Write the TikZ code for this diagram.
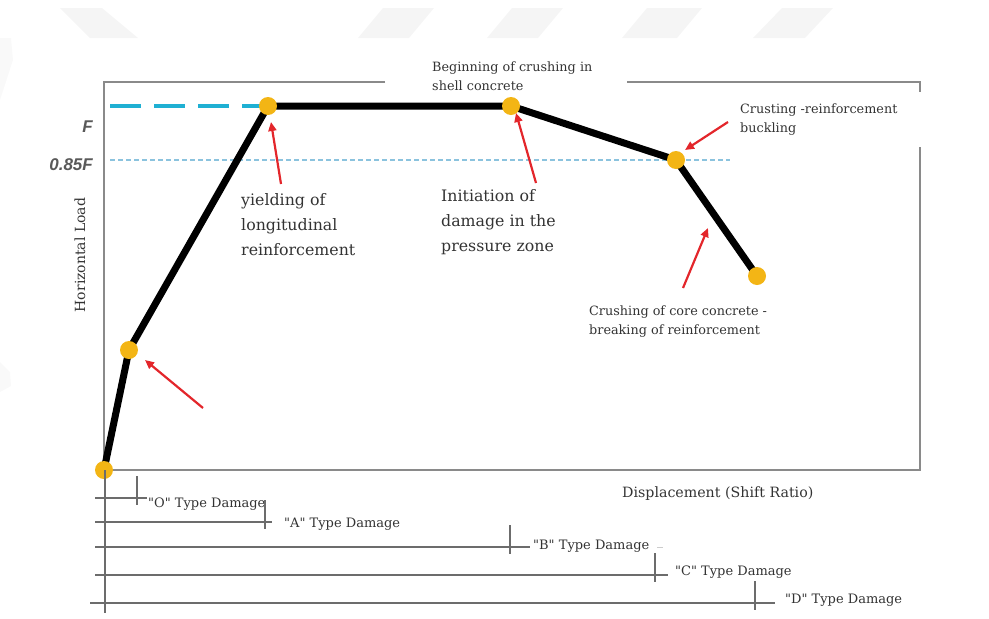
\documentclass[tikz,border=0pt]{standalone}
\usepackage{fontspec}
\setmainfont{DejaVu Serif}[Ligatures=TeXOff]
\setsansfont{Liberation Sans}
\usetikzlibrary{arrows.meta}

\definecolor{dotfill}{HTML}{F3B515}
\definecolor{fcyan}{HTML}{1FB0D3}
\definecolor{flight}{HTML}{8BC3DE}
\definecolor{redarrow}{HTML}{E3262B}
\definecolor{framegray}{HTML}{8A8A8A}
\definecolor{textgray}{HTML}{333333}

\begin{document}
\begin{tikzpicture}[x=1pt, y=-1pt,
  boxline/.style={framegray, line width=1.6pt},
  curveline/.style={black, line width=7pt, line join=round},
  pointdot/.style={fill=dotfill},
  redarr/.style={redarrow, line width=2.2pt, -{Triangle[length=9pt,width=8pt]}},
  damline/.style={gray!85!black, line width=1.4pt},
  biglabel/.style={inner sep=0pt, anchor=north west, align=left, text=textgray,
    font=\fontsize{15.8}{25}\selectfont},
  smalllabel/.style={inner sep=0pt, anchor=north west, align=left, text=textgray,
    font=\fontsize{12.8}{19}\selectfont},
  damlabel/.style={inner sep=0pt, anchor=base west, text=textgray,
    font=\fontsize{13}{15}\selectfont},
  flabel/.style={inner sep=0pt, anchor=base east, text=black!65,
    font=\fontsize{17}{18}\selectfont\sffamily\bfseries\itshape}]
  \useasboundingbox (0,0) rectangle (989,619);

  % Faint watermark stripes along the top
  \fill[gray!8] (60,8) -- (102,8) -- (138,38) -- (90,38) -- cycle;
  \fill[gray!8] (383,8) -- (434,8) -- (409,38) -- (358,38) -- cycle;
  \fill[gray!8] (512,8) -- (563,8) -- (538,38) -- (487,38) -- cycle;
  \fill[gray!8] (647,8) -- (702,8) -- (677,38) -- (622,38) -- cycle;
  \fill[gray!8] (782,8) -- (833,8) -- (805,38) -- (753,38) -- cycle;
  \fill[gray!5] (0,38) -- (11,38) -- (13,60) -- (0,100) -- cycle;
  \fill[gray!5] (0,362) -- (10,372) -- (11,386) -- (0,392) -- cycle;

  % Frame of the plot (open at the top labels)
  \draw[boxline] (385,82) -- (104,82) -- (104,470) -- (920,470) -- (920,147);
  \draw[boxline] (627,82) -- (920,82) -- (920,92);

  % Load levels F and 0.85F
  \node[flabel] (fF) at (93,132) {F};
  \node[flabel] (f85) at (93,170) {0.85F};
  \node[inner sep=0pt, rotate=90, text=textgray,
    font=\fontsize{14}{16}\selectfont] (hload) at (80,255) {Horizontal Load};

  % Points of the capacity curve
  \coordinate (o) at (104,470);
  \coordinate (a) at (129,350);
  \coordinate (y) at (268,106);
  \coordinate (b) at (511,106);
  \coordinate (c) at (676,160);
  \coordinate (d) at (757,276);
  \coordinate (fstart) at (110,106);
  \coordinate (lstart) at (110,160);
  \coordinate (lend) at (730,160);

  \draw[flight, line width=1.8pt, dash pattern=on 5pt off 3pt] (lstart) -- (lend);
  \draw[fcyan, line width=3.5pt, dash pattern=on 31pt off 13pt] (fstart) -- (y);

  % The curve itself
  \draw[curveline] (o) -- (a) -- (y) -- (b) -- (c) -- (d);
  \foreach \p in {o,a,y,b,c,d} {
    \fill[pointdot] (\p) circle[radius=9pt];
  }

  % Red pointers
  \coordinate (t1) at (203,408);  \coordinate (h1) at (145,360);
  \coordinate (t2) at (281,184);  \coordinate (h2) at (271,122);
  \coordinate (t3) at (536,183);  \coordinate (h3) at (516,113);
  \coordinate (t4) at (728,122);  \coordinate (h4) at (685,150);
  \coordinate (t5) at (683,288);  \coordinate (h5) at (708,228);
  \foreach \i in {1,...,5} {
    \draw[redarr] (t\i) -- (h\i);
  }

  % Labels of the stages
  \node[biglabel] (yield) at (241,193) {yielding of\\longitudinal\\reinforcement};
  \node[biglabel] (init) at (441,189) {Initiation of\\damage in the\\pressure zone};
  \node[smalllabel] (shell) at (432,62) {Beginning of crushing in\\shell concrete};
  \node[smalllabel] (buck) at (740,104) {Crusting -reinforcement\\buckling};
  \node[smalllabel] (core) at (589,306) {Crushing of core concrete -\\breaking of reinforcement};
  \node[inner sep=0pt, anchor=base west, text=textgray,
    font=\fontsize{14.2}{16}\selectfont] (disp) at (622,497) {Displacement (Shift Ratio)};

  % Damage ranges below the plot
  \draw[damline] (105,470) -- (105,613);
  \foreach \yy/\xs/\tx/\xe/\lx/\ly/\lab in
    {498/95/137/147/148/507/O, 522/95/265/272/284/527/A, 547/95/510/530/533/549/B,
     575/95/655/668/675/575/C, 603/90/755/775/785/603/D} {
    \draw[damline] (\xs,\yy) -- (\xe,\yy);
    \draw[damline] (\tx,\yy-22) -- (\tx,\yy+7);
    \node[damlabel] (dam\lab) at (\lx,\ly) {"\lab" Type Damage};
  }
  \draw[gray!40, line width=1pt] (657,547) -- (663,547);

\end{tikzpicture}
\end{document}
